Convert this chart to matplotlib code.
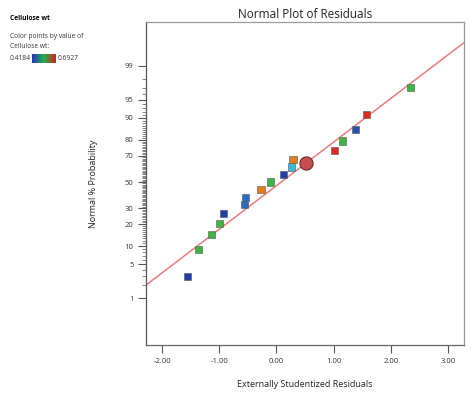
import numpy as np
import matplotlib
matplotlib.use("Agg")
import matplotlib.pyplot as plt
from matplotlib.colors import LinearSegmentedColormap
from statistics import NormalDist
import math

plt.rcParams['font.family'] = ['Open Sans', 'DejaVu Sans']

# residuals (x) and normal % probability (y) of each run, with cellulose wt
resid = [-1.56, -1.37, -1.14, -1.00, -0.93, -0.55, -0.54, -0.27, -0.10,
         0.12, 0.27, 0.29, 1.01, 1.15, 1.39, 1.57, 2.34]
prob = [2.9, 8.8, 14.7, 20.6, 26.5, 32.4, 38.2, 44.1, 50.0,
        55.9, 61.8, 67.6, 73.5, 79.4, 85.3, 91.2, 97.1]
cellulose = [0.43, 0.555, 0.555, 0.555, 0.43, 0.47, 0.47, 0.62, 0.555,
             0.43, 0.51, 0.62, 0.68, 0.555, 0.45, 0.68, 0.555]

# highlighted run
sel_resid = 0.51
sel_prob = 64.6

# reference line (mean, sd)
line_mean = 0.083
line_sd = 1.147

vmin, vmax = 0.4184, 0.6927
yticks = [1, 5, 10, 20, 30, 50, 70, 80, 90, 95, 99]
xticks = [-2, -1, 0, 1, 2, 3]

nd = NormalDist()

def fwd(p):
    p = np.clip(np.asarray(p, dtype=float), 1e-6, 100 - 1e-6)
    return np.vectorize(lambda v: nd.inv_cdf(v / 100.0))(p)

def inv(z):
    z = np.asarray(z, dtype=float)
    return np.vectorize(lambda v: 50.0 * (1 + math.erf(v / math.sqrt(2))))(z)

cmap = LinearSegmentedColormap.from_list('de', [
    (0.0, '#1f2f9c'), (0.2, '#2a70c6'), (0.35, '#3ec3d6'),
    (0.5, '#3db443'), (0.75, '#ee7a1a'), (1.0, '#d41f1f')])
bar_cmap = LinearSegmentedColormap.from_list('bar', ['#2633b8', '#22b04a', '#d81e1e'])

fig = plt.figure(figsize=(4.74, 3.99), dpi=100)
ax = fig.add_axes([0.308, 0.135, 0.671, 0.81])
ax.set_yscale('function', functions=(fwd, inv))

xl = np.linspace(-2.28, 3.28, 50)
ax.plot(xl, inv((xl - line_mean) / line_sd), color='#ee7b7b', lw=1.1, zorder=2)

ax.scatter(resid, prob, c=cellulose, cmap=cmap, vmin=vmin, vmax=vmax,
           marker='s', s=26, edgecolors='#555555', linewidths=0.4, zorder=3)
ax.scatter([sel_resid], [sel_prob], marker='o', s=90, color='#c94f4f',
           edgecolors='#6a2a2a', linewidths=0.8, zorder=4)

ax.set_xlim(-2.28, 3.28)
ax.set_ylim(inv(-3.26), inv(3.2))
ax.set_xticks(xticks)
ax.set_xticklabels(['%.2f' % v for v in xticks])
ax.set_yticks(yticks)
ax.set_yticklabels([str(v) for v in yticks])
ax.set_yticks([v for v in range(2, 99) if v not in yticks], minor=True)
ax.xaxis.set_minor_locator(plt.NullLocator())

for s in ax.spines.values():
    s.set_color('#999999')
    s.set_linewidth(0.9)
ax.spines['left'].set_color('#555555')
ax.spines['bottom'].set_color('#666666')
ax.tick_params(axis='both', which='major', length=6, width=0.8, color='#555555',
               labelsize=5.5, labelcolor='#333333', pad=3)
ax.tick_params(axis='y', which='minor', length=3, width=0.5, color='#555555')

ax.set_title('Normal Plot of Residuals', fontsize=8.5, color='#222222', pad=3)
ax.set_xlabel('Externally Studentized Residuals', fontsize=6.5, color='#222222', labelpad=11)
ax.set_ylabel('Normal % Probability', fontsize=6.5, color='#222222', labelpad=19)

# left info panel
fig.text(10 / 474, 1 - 18 / 399, 'Cellulose wt', fontsize=4.8, weight='bold', va='center')
fig.text(10 / 474, 1 - 37 / 399, 'Color points by value of', fontsize=4.8, va='center', color='#333333')
fig.text(10 / 474, 1 - 46 / 399, 'Cellulose wt:', fontsize=4.8, va='center', color='#333333')
fig.text(10 / 474, 1 - 58 / 399, '0.4184', fontsize=4.8, va='center', color='#333333')
fig.text(58 / 474, 1 - 58 / 399, '0.6927', fontsize=4.8, va='center', color='#333333')
cax = fig.add_axes([32 / 474, 1 - 63 / 399, 23 / 474, 9 / 399])
cax.imshow(np.linspace(0, 1, 100)[None, :], aspect='auto', cmap=bar_cmap)
cax.set_axis_off()

fig.savefig('out.png', dpi=100)
